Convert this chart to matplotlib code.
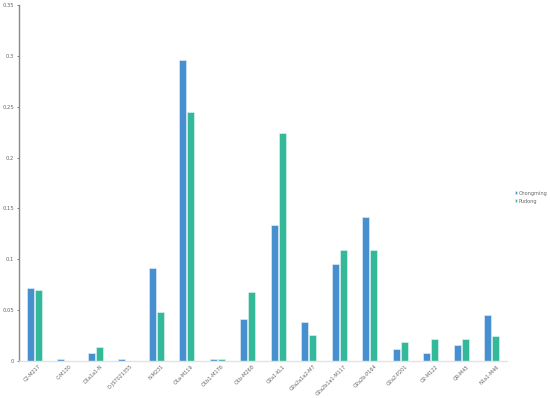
import matplotlib
matplotlib.use('Agg')
import matplotlib.pyplot as plt
import numpy as np

# ── Data ──
haplogroups = ['C2-M217', 'C-M130', 'D1a1a1-N', 'D-JST021355', 'N-M231',
               'O1a-M119', 'O1b1-M176', 'O1b-M268', 'O2a1-KL1', 'O2a2a1a2-M7',
               'O2a2b1a1-M117', 'O2a2b-P164', 'O2a2-P201', 'O2-M122', 'QR-M45',
               'N1a1-M46']
chongming = [0.072, 0.0023, 0.0079, 0.0023, 0.091, 0.296, 0.0023, 0.041,
             0.134, 0.038, 0.095, 0.142, 0.0115, 0.0076, 0.0154, 0.045]
pudong = [0.070, 0.0, 0.0138, 0.0, 0.048, 0.245, 0.0015, 0.068,
          0.224, 0.026, 0.109, 0.109, 0.0187, 0.0217, 0.0217, 0.025]
y_ticks = [0, 0.05, 0.1, 0.15, 0.2, 0.25, 0.3, 0.35]
y_tick_labels = ['0', '0.05', '0.1', '0.15', '0.2', '0.25', '0.3', '0.35']

c_blue = '#4790D0'
c_green = '#33B899'
label_color = '#666666'

fig = plt.figure(figsize=(5.5, 3.98), dpi=100)
ax = fig.add_axes([0.0345, 0.093, 0.8875, 0.894])

x = np.arange(len(haplogroups))
w = 0.23
ax.bar(x - 0.13, chongming, width=w, color=c_blue, edgecolor='#EAF2FA',
       linewidth=0.4, label='Chongming')
ax.bar(x + 0.13, pudong, width=w, color=c_green, edgecolor='#E6F6F2',
       linewidth=0.4, label='Pudong')

ax.set_xlim(-0.5, len(haplogroups) - 0.5)
ax.set_ylim(0, 0.35)
ax.set_yticks(y_ticks)
ax.set_yticklabels(y_tick_labels)
ax.set_xticks(x + 0.15)
ax.set_xticklabels(haplogroups, rotation=45, ha='right', rotation_mode='anchor')

ax.tick_params(axis='y', labelsize=3.8, colors=label_color, length=1.5,
               width=0.6, pad=2)
ax.tick_params(axis='x', labelsize=3.6, colors=label_color, length=0, pad=2)

for s in ['top', 'right']:
    ax.spines[s].set_visible(False)
ax.spines['left'].set_color('#888888')
ax.spines['left'].set_linewidth(1.0)
ax.spines['bottom'].set_color('#E3E3E3')
ax.spines['bottom'].set_linewidth(1.0)

leg = fig.legend(loc='center left', bbox_to_anchor=(0.932, 0.505), frameon=False,
                 fontsize=3.6, handlelength=0.5, handleheight=0.5,
                 handletextpad=0.3, labelspacing=0.6, borderaxespad=0)
for t in leg.get_texts():
    t.set_color(label_color)

plt.savefig('out.png', dpi=100, facecolor='white')
